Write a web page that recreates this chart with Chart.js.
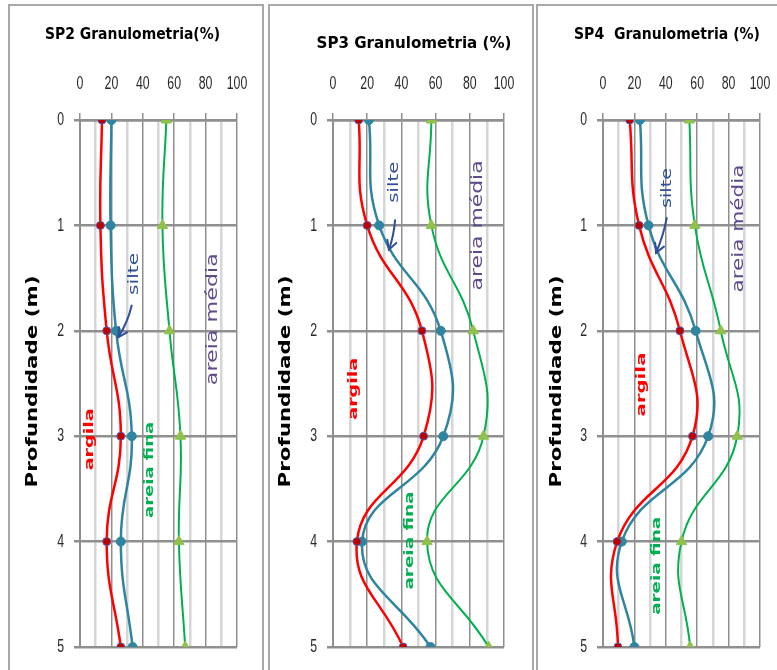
<!DOCTYPE html>
<html>
<head>
<meta charset="utf-8">
<title>Granulometria SP2 / SP3 / SP4</title>
<script src="https://cdn.jsdelivr.net/npm/chart.js@4.4.1/dist/chart.umd.min.js"></script>
<style>
  html, body { margin: 0; padding: 0; background: #ffffff; width: 777px; height: 670px; overflow: hidden; }
  .frame { position: absolute; top: 4px; height: 720px; box-sizing: border-box; border: 2px solid #a9a9a9; background: #ffffff; }
  canvas { position: absolute; top: 0; }
</style>
</head>
<body>
<div class="frame" style="left:8px; width:256px;"></div>
<div class="frame" style="left:268px; width:266px;"></div>
<div class="frame" style="left:536px; width:300px;"></div>
<canvas id="sp2" width="250" height="670" style="left:10px;"></canvas>
<canvas id="sp3" width="262" height="670" style="left:270px;"></canvas>
<canvas id="sp4" width="238" height="670" style="left:538px;"></canvas>
<script>
// Depth of each sample (m) and the axis tick values
const depths = [0, 1, 2, 3, 4, 5];
const depthTicks = [0, 1, 2, 3, 4, 5];
const percentTicks = [0, 20, 40, 60, 80, 100];
const percentGrid = [0, 10, 20, 30, 40, 50, 60, 70, 80, 90, 100];

// Grain-size fractions (%) per depth
const sp2Argila = [14, 13, 17, 26, 17, 26];
const sp2Silte = [20, 19.5, 23, 33, 26, 33.5];
const sp2AreiaFina = [55, 52.5, 57, 64, 63, 67];

const sp3Argila = [15, 20, 52, 53, 14, 41];
const sp3Silte = [21, 27, 63, 64.5, 17, 57];
const sp3AreiaFina = [57.5, 57.5, 82, 88, 55, 91];

const sp4Argila = [17, 23, 49, 57, 9, 9.5];
const sp4Silte = [23.5, 29, 59, 67, 12, 20];
const sp4AreiaFina = [55, 58.5, 75, 85.5, 50, 55.5];

const COLORS = {
  argila: '#ff0000',
  argilaPoint: '#c00000',
  silte: '#2f85a0',
  areiaFina: '#00b050',
  areiaFinaPoint: '#8fc24a',
  silteLabel: '#2f4f96',
  areiaMedia: '#5f4a8b',
  gridMajor: '#8f8f8f',
  gridMinor: '#d6d6d6',
  tickText: '#2a2a2a'
};

const TICK_FONT = '14px "Liberation Sans", Arial, sans-serif';

function toPoints(values) {
  return values.map((v, i) => ({ x: v, y: depths[i] }));
}

// Draw text centred at (cx, cy), stretched along its run to a given length
function drawStretched(ctx, text, cx, cy, length, font, color, vertical) {
  ctx.save();
  ctx.font = font;
  ctx.fillStyle = color;
  ctx.textAlign = 'center';
  ctx.textBaseline = 'middle';
  const w = ctx.measureText(text).width;
  ctx.translate(cx, cy);
  if (vertical) ctx.rotate(-Math.PI / 2);
  ctx.scale(length / w, 1);
  ctx.fillText(text, 0, 0);
  ctx.restore();
}

// Tall, narrow tick numerals
function drawTickText(ctx, text, x, y, align) {
  ctx.save();
  ctx.font = TICK_FONT;
  ctx.fillStyle = COLORS.tickText;
  ctx.textAlign = align;
  ctx.textBaseline = 'middle';
  ctx.translate(x, y);
  ctx.scale(0.88, 1.35);
  ctx.fillText(text, 0, 0);
  ctx.restore();
}

function drawArrow(ctx, x1, y1, x2, y2, bend, color) {
  const mx = (x1 + x2) / 2, my = (y1 + y2) / 2;
  const dx = x2 - x1, dy = y2 - y1;
  const len = Math.hypot(dx, dy);
  const cx = mx + (-dy / len) * bend, cy = my + (dx / len) * bend;
  ctx.save();
  ctx.strokeStyle = color;
  ctx.lineWidth = 2;
  ctx.lineCap = 'round';
  ctx.beginPath();
  ctx.moveTo(x1, y1);
  ctx.quadraticCurveTo(cx, cy, x2, y2);
  ctx.stroke();
  const ang = Math.atan2(y2 - cy, x2 - cx);
  const head = 10, spread = 0.5;
  ctx.beginPath();
  ctx.moveTo(x2 - head * Math.cos(ang - spread), y2 - head * Math.sin(ang - spread));
  ctx.lineTo(x2, y2);
  ctx.lineTo(x2 - head * Math.cos(ang + spread), y2 - head * Math.sin(ang + spread));
  ctx.stroke();
  ctx.restore();
}

// Tick numerals, panel title, depth axis title, curve names and the silte pointer
const panelText = {
  id: 'panelText',
  afterDraw(chart, args, opts) {
    const ctx = chart.ctx;
    const xs = chart.scales.x, ys = chart.scales.y;
    const area = chart.chartArea;

    for (const v of percentTicks) {
      drawTickText(ctx, String(v), xs.getPixelForValue(v), 83.5, 'center');
    }
    for (const d of depthTicks) {
      drawTickText(ctx, String(d), area.left - 16, ys.getPixelForValue(d), 'right');
    }

    const t = opts.title;
    drawStretched(ctx, t.text, t.cx, t.cy, t.length, 'bold 16px "DejaVu Sans Condensed", "DejaVu Sans", sans-serif', '#000000', false);
    const midY = (area.top + area.bottom) / 2 - 2;
    drawStretched(ctx, 'Profundidade (m)', opts.axisTitleX, midY, 212, 'bold 16px "DejaVu Sans", sans-serif', '#000000', true);
    for (const lab of opts.labels) {
      drawStretched(ctx, lab.text, xs.getPixelForValue(lab.x), ys.getPixelForValue(lab.d), lab.length, lab.font, lab.color, true);
    }
    const a = opts.arrow;
    drawArrow(ctx, xs.getPixelForValue(a.x1), ys.getPixelForValue(a.d1), xs.getPixelForValue(a.x2), ys.getPixelForValue(a.d2), a.bend, COLORS.silteLabel);
  }
};

function makeDatasets(argila, silte, areiaFina) {
  return [
    {
      label: 'argila', data: toPoints(argila), showLine: true, tension: 0.45,
      borderColor: COLORS.argila, borderWidth: 2.5,
      pointStyle: 'circle', pointRadius: 4, pointBackgroundColor: COLORS.argilaPoint,
      pointBorderColor: '#5b5ba8', pointBorderWidth: 1
    },
    {
      label: 'silte', data: toPoints(silte), showLine: true, tension: 0.45,
      borderColor: COLORS.silte, borderWidth: 2.5,
      pointStyle: 'circle', pointRadius: 4.5, pointBackgroundColor: COLORS.silte,
      pointBorderColor: COLORS.silte, pointBorderWidth: 1
    },
    {
      label: 'areia fina', data: toPoints(areiaFina), showLine: true, tension: 0.45,
      borderColor: COLORS.areiaFina, borderWidth: 2,
      pointStyle: 'triangle', pointRadius: 6, pointBackgroundColor: COLORS.areiaFinaPoint,
      pointBorderColor: COLORS.areiaFinaPoint, pointBorderWidth: 1
    }
  ];
}

function makeChart(canvasId, datasets, plotLeft, rightPad, text) {
  return new Chart(document.getElementById(canvasId), {
    type: 'scatter',
    data: { datasets },
    plugins: [panelText],
    options: {
      responsive: false,
      devicePixelRatio: 1,
      animation: false,
      layout: { padding: { left: 0, top: 0, right: rightPad, bottom: 23 } },
      plugins: { legend: { display: false }, tooltip: { enabled: false }, panelText: text },
      scales: {
        x: {
          type: 'linear', position: 'top', min: 0, max: 100,
          afterBuildTicks: s => { s.ticks = percentGrid.map(v => ({ value: v })); },
          afterFit: s => { s.height = 120; },
          ticks: { display: false },
          grid: {
            tickLength: 7,
            color: c => (c.tick && c.tick.value % 20 === 0 ? COLORS.gridMajor : COLORS.gridMinor),
            lineWidth: c => (c.tick && c.tick.value % 20 === 0 ? 1.5 : 2.5),
            tickColor: c => (c.tick && c.tick.value % 20 === 0 ? COLORS.gridMajor : 'rgba(0,0,0,0)')
          },
          border: { display: true, color: COLORS.gridMajor, width: 2.5 }
        },
        y: {
          type: 'linear', reverse: true, min: 0, max: 5,
          afterBuildTicks: s => { s.ticks = depthTicks.map(v => ({ value: v })); },
          afterFit: s => { s.width = plotLeft; },
          ticks: { display: false },
          grid: { tickLength: 6, color: COLORS.gridMajor, lineWidth: 2.5, tickColor: COLORS.gridMajor },
          border: { display: true, color: COLORS.gridMajor, width: 2 }
        }
      }
    }
  });
}

const LABEL_BOLD = 'bold 12px "DejaVu Sans", sans-serif';
const LABEL_FINA = 'bold 13px "DejaVu Sans", sans-serif';
const LABEL_SILTE = '14px "DejaVu Sans", sans-serif';
const LABEL_MEDIA = '15px "DejaVu Sans", sans-serif';

makeChart('sp2', makeDatasets(sp2Argila, sp2Silte, sp2AreiaFina), 70, 23, {
  title: { text: 'SP2 Granulometria(%)', cx: 122.5, cy: 34.5, length: 175 },
  axisTitleX: 23,
  labels: [
    { text: 'argila', x: 6.4, d: 3.03, length: 62, font: LABEL_BOLD, color: COLORS.argila },
    { text: 'areia fina', x: 44.5, d: 3.32, length: 96, font: LABEL_FINA, color: COLORS.areiaFina },
    { text: 'silte', x: 34.4, d: 1.46, length: 42, font: LABEL_SILTE, color: COLORS.silteLabel },
    { text: 'areia média', x: 84.7, d: 1.89, length: 132, font: LABEL_MEDIA, color: COLORS.areiaMedia }
  ],
  arrow: { x1: 32.9, d1: 1.76, x2: 24.4, d2: 2.06, bend: -3 }
});

makeChart('sp3', makeDatasets(sp3Argila, sp3Silte, sp3AreiaFina), 63, 28, {
  title: { text: 'SP3 Granulometria (%)', cx: 144, cy: 44, length: 195 },
  axisTitleX: 15.5,
  labels: [
    { text: 'argila', x: 12.3, d: 2.55, length: 62, font: LABEL_BOLD, color: COLORS.argila },
    { text: 'areia fina', x: 45, d: 3.99, length: 98, font: LABEL_FINA, color: COLORS.areiaFina },
    { text: 'silte', x: 35.7, d: 0.59, length: 41, font: LABEL_SILTE, color: COLORS.silteLabel },
    { text: 'areia média', x: 84.8, d: 1.0, length: 130, font: LABEL_MEDIA, color: COLORS.areiaMedia }
  ],
  arrow: { x1: 36.3, d1: 0.95, x2: 32.7, d2: 1.23, bend: -2 }
});

makeChart('sp4', makeDatasets(sp4Argila, sp4Silte, sp4AreiaFina), 65, 16, {
  title: { text: 'SP4  Granulometria (%)', cx: 129, cy: 34.5, length: 186 },
  axisTitleX: 19,
  labels: [
    { text: 'argila', x: 24.8, d: 2.51, length: 64, font: LABEL_BOLD, color: COLORS.argila },
    { text: 'areia fina', x: 34.4, d: 4.23, length: 98, font: LABEL_FINA, color: COLORS.areiaFina },
    { text: 'silte', x: 40.8, d: 0.645, length: 40, font: LABEL_SILTE, color: COLORS.silteLabel },
    { text: 'areia média', x: 86.6, d: 1.03, length: 128, font: LABEL_MEDIA, color: COLORS.areiaMedia }
  ],
  arrow: { x1: 40.6, d1: 0.93, x2: 33.8, d2: 1.26, bend: -2 }
});
</script>
</body>
</html>
